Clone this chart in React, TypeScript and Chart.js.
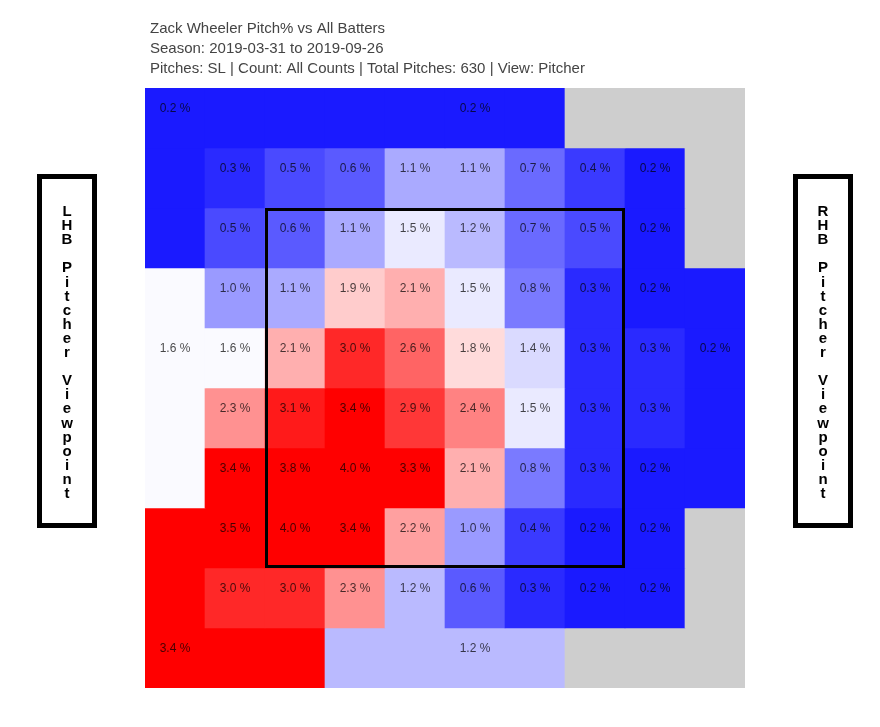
import React, { useEffect, useRef } from 'react';
import { Chart, registerables } from 'chart.js';

Chart.register(...registerables);

// ---------- text ----------
const titleLines = [
  'Zack Wheeler Pitch% vs All Batters',
  'Season: 2019-03-31 to 2019-09-26',
  'Pitches: SL | Count: All Counts | Total Pitches: 630 | View: Pitcher',
];
const leftSideLabel = 'LHB Pitcher Viewpoint';
const rightSideLabel = 'RHB Pitcher Viewpoint';

// ---------- grid columns (pitcher view, left to right) ----------
const columns = ['c0', 'c1', 'c2', 'c3', 'c4', 'c5', 'c6', 'c7', 'c8', 'c9'];

// ---------- inner 8x8 zone values (%), top row first ----------
const zoneRow1 = [0.3, 0.5, 0.6, 1.1, 1.1, 0.7, 0.4, 0.2];
const zoneRow2 = [0.5, 0.6, 1.1, 1.5, 1.2, 0.7, 0.5, 0.2];
const zoneRow3 = [1.0, 1.1, 1.9, 2.1, 1.5, 0.8, 0.3, 0.2];
const zoneRow4 = [1.6, 2.1, 3.0, 2.6, 1.8, 1.4, 0.3, 0.3];
const zoneRow5 = [2.3, 3.1, 3.4, 2.9, 2.4, 1.5, 0.3, 0.3];
const zoneRow6 = [3.4, 3.8, 4.0, 3.3, 2.1, 0.8, 0.3, 0.2];
const zoneRow7 = [3.5, 4.0, 3.4, 2.2, 1.0, 0.4, 0.2, 0.2];
const zoneRow8 = [3.0, 3.0, 2.3, 1.2, 0.6, 0.3, 0.2, 0.2];
const innerRows = [zoneRow1, zoneRow2, zoneRow3, zoneRow4, zoneRow5, zoneRow6, zoneRow7, zoneRow8];

// ---------- outer zones ----------
const outerZoneCodes = ['A', 'B', 'L', 'R', 'D', 'E']; // top-left, top-right, left, right, bottom-left, bottom-right
const outerZoneValues = [0.2, 0.2, 1.6, 0.2, 3.4, 1.2];
const outerZoneLabelRows = [0, 0, 4, 4, 9, 9];
const outerZoneLabelCols = [0, 5, 0, 9, 0, 5];

// cell layout: '#' inner zone, '.' no data, letters = outer zones
const gridLayout = [
  'AAABBBB...',
  'A########.',
  'A########.',
  'L########R',
  'L########R',
  'L########R',
  'L########R',
  'D########.',
  'D########.',
  'DDDEEEE...',
];

// strike zone in grid cells (rows/cols, 10x10 grid, row 0 at top)
const strikeZoneCols = [2, 8];
const strikeZoneRows = [2, 8];

function cellValue(r: number, c: number): number | null {
  const code = gridLayout[r][c];
  if (code === '#') return innerRows[r - 1][c - 1];
  if (code === '.') return null;
  return outerZoneValues[outerZoneCodes.indexOf(code)];
}

function clamp(v: number) {
  return Math.max(0, Math.min(255, Math.round(v)));
}

function heatColor(v: number | null): string {
  if (v === null) return 'rgb(206,206,206)';
  if (v <= 1.6) {
    const c = clamp(160 * (v - 0.04));
    return `rgb(${c},${c},255)`;
  }
  const c = clamp(255 - 149 * (v - 1.56));
  return `rgb(255,${c},${c})`;
}

const FONT = '"Liberation Sans", Arial, Helvetica, sans-serif';

const overlayPlugin = {
  id: 'zoneOverlay',
  afterDatasetsDraw(chart: any) {
    const { ctx, scales } = chart;
    const xs = scales.x;
    const ys = scales.y;
    const cellW = xs.getPixelForValue(1) - xs.getPixelForValue(0);
    ctx.save();
    ctx.font = `12px ${FONT}`;
    ctx.fillStyle = 'rgba(0,0,0,0.72)';
    ctx.textAlign = 'center';
    ctx.textBaseline = 'middle';
    const fmt = (v: number) => `${v.toFixed(1)} %`;
    // inner labels
    for (let r = 1; r <= 8; r++) {
      for (let c = 1; c <= 8; c++) {
        const v = cellValue(r, c);
        if (v === null) continue;
        ctx.fillText(fmt(v), xs.getPixelForValue(c), ys.getPixelForValue(10 - r - 1 / 3) + 1);
      }
    }
    // outer labels
    outerZoneValues.forEach((v, i) => {
      const r = outerZoneLabelRows[i];
      const c = outerZoneLabelCols[i];
      ctx.fillText(fmt(v), xs.getPixelForValue(c), ys.getPixelForValue(10 - r - 1 / 3) + 1);
    });
    // strike zone
    const x0 = xs.getPixelForValue(strikeZoneCols[0]) - cellW / 2;
    const x1 = xs.getPixelForValue(strikeZoneCols[1] - 1) + cellW / 2;
    const y0 = ys.getPixelForValue(10 - strikeZoneRows[0]);
    const y1 = ys.getPixelForValue(10 - strikeZoneRows[1]);
    ctx.strokeStyle = '#000';
    ctx.lineWidth = 3;
    ctx.strokeRect(x0 + 1.5, y0 + 1.5, x1 - x0 - 3, y1 - y0 - 3);
    ctx.restore();
  },
  afterDraw(chart: any) {
    const { ctx, chartArea } = chart;
    ctx.save();
    // title
    ctx.font = `15px ${FONT}`;
    ctx.fillStyle = '#444';
    ctx.textAlign = 'left';
    ctx.textBaseline = 'alphabetic';
    titleLines.forEach((t, i) => ctx.fillText(t, chartArea.left + 5, 33 + i * 20));
    // side boxes
    const drawBox = (cx: number, text: string) => {
      ctx.strokeStyle = '#000';
      ctx.lineWidth = 5;
      ctx.strokeRect(cx - 27.5, 176.5, 55, 349);
      ctx.fillStyle = '#000';
      ctx.font = `bold 15px ${FONT}`;
      ctx.textAlign = 'center';
      text.split('').forEach((ch, i) => {
        if (ch !== ' ') ctx.fillText(ch, cx, 216 + i * 14.1);
      });
    };
    drawBox(chartArea.left - 78, leftSideLabel);
    drawBox(chartArea.right + 78, rightSideLabel);
    ctx.restore();
  },
};

export default function App() {
  const canvasRef = useRef<HTMLCanvasElement | null>(null);

  useEffect(() => {
    if (!canvasRef.current) return;
    const datasets = gridLayout.map((_, r) => ({
      label: `row ${r}`,
      data: columns.map(() => [9 - r, 10 - r]),
      backgroundColor: columns.map((_, c) => heatColor(cellValue(r, c))),
      borderWidth: 0,
      grouped: false,
      barPercentage: 1,
      categoryPercentage: 1,
    }));
    const chart = new Chart(canvasRef.current, {
      type: 'bar',
      data: { labels: columns, datasets: datasets as any },
      options: {
        animation: false,
        responsive: true,
        maintainAspectRatio: false,
        layout: { padding: { left: 145, right: 135, top: 88, bottom: 39 } },
        scales: {
          x: { type: 'category', display: false, offset: true, grid: { display: false } },
          y: { type: 'linear', display: false, min: 0, max: 10, grid: { display: false } },
        },
        plugins: {
          legend: { display: false },
          tooltip: { enabled: false },
          title: { display: false },
        },
      },
      plugins: [overlayPlugin],
    });
    return () => chart.destroy();
  }, []);

  return (
    <div style={{ position: 'absolute', left: 0, top: 0, width: 880, height: 727, background: '#fff' }}>
      <canvas ref={canvasRef} />
    </div>
  );
}
